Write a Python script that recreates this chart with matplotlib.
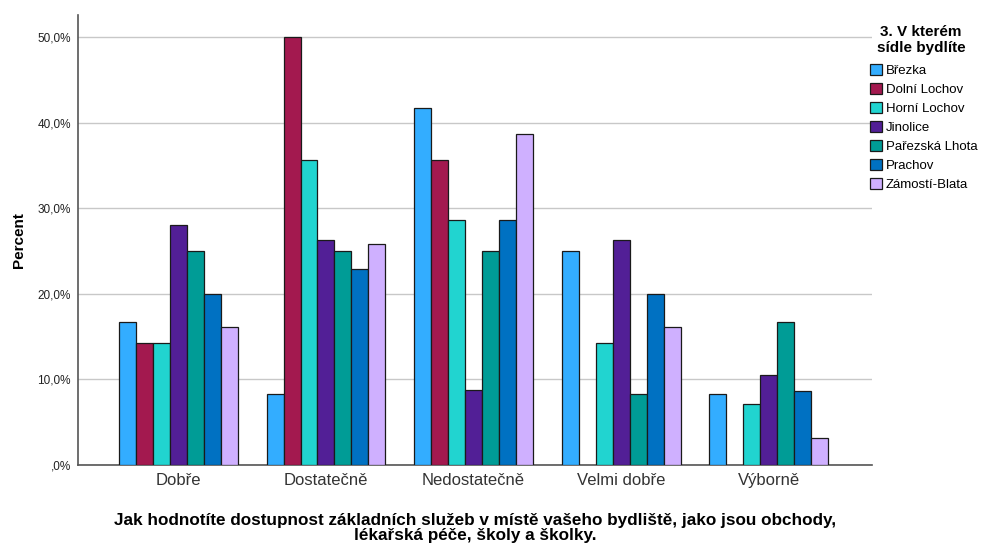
import numpy as np
import matplotlib.pyplot as plt

plt.rcParams['font.family'] = ['Liberation Sans', 'DejaVu Sans']

categories = ['Dobře', 'Dostatečně', 'Nedostatečně', 'Velmi dobře', 'Výborně']
settlements = ['Březka', 'Dolní Lochov', 'Horní Lochov', 'Jinolice',
               'Pařezská Lhota', 'Prachov', 'Zámostí-Blata']

brezka = [16.7, 8.3, 41.7, 25.0, 8.3]
dolni_lochov = [14.3, 50.0, 35.7, 0.0, 0.0]
horni_lochov = [14.3, 35.7, 28.6, 14.3, 7.1]
jinolice = [28.0, 26.3, 8.8, 26.3, 10.5]
parezska_lhota = [25.0, 25.0, 25.0, 8.3, 16.7]
prachov = [20.0, 22.9, 28.6, 20.0, 8.6]
zamosti_blata = [16.1, 25.8, 38.7, 16.1, 3.2]

colors = ['#33adff', '#a3194f', '#21d4d0', '#521f96', '#009c96', '#0071c2', '#cfb0ff']
series = [brezka, dolni_lochov, horni_lochov, jinolice, parezska_lhota, prachov, zamosti_blata]

fig = plt.figure(figsize=(9.83, 5.43), dpi=100)
ax = fig.add_axes([0.0793, 0.1436, 0.808, 0.8288])

x = np.arange(len(categories))
width = 0.115
for i, (name, vals, col) in enumerate(zip(settlements, series, colors)):
    offs = (i - 3) * width
    vals = np.array(vals)
    mask = vals > 0
    ax.bar(x[mask] + offs, vals[mask], width, color=col, edgecolor='#1a1a1a',
           linewidth=0.9, label=name, zorder=3)

ax.set_xlim(-0.68, 4.7)
ax.set_ylim(0, 52.6)
ax.set_yticks([0, 10, 20, 30, 40, 50])
ax.set_yticklabels([',0%', '10,0%', '20,0%', '30,0%', '40,0%', '50,0%'],
                   fontsize=8.5, color='#222222')
ax.set_xticks(x)
ax.set_xticklabels(categories, fontsize=12, color='#333333')
ax.tick_params(axis='both', length=0)
ax.tick_params(axis='y', pad=5)
ax.tick_params(axis='x', pad=6)
ax.grid(axis='y', color='#c8c8c8', linewidth=1, zorder=0)

for side in ['top', 'right']:
    ax.spines[side].set_visible(False)
for side in ['left', 'bottom']:
    ax.spines[side].set_color('#555555')
    ax.spines[side].set_linewidth(1.2)

ax.set_ylabel('Percent', fontsize=11, fontweight='bold', labelpad=8)
ax.set_xlabel('Jak hodnotíte dostupnost základních služeb v místě vašeho bydliště, jako jsou obchody,\n'
              'lékařská péče, školy a školky.', fontsize=12.3, fontweight='bold',
              linespacing=1.0, labelpad=18)

# legend title drawn separately so the two lines get proper spacing
fig.text(921 / 983, 1 - 40 / 543, '3. V kterém\nsídle bydlíte', ha='center', va='center',
         fontsize=11, fontweight='bold', linespacing=1.2)
leg = fig.legend(loc='upper left', bbox_to_anchor=(870 / 983, 1 - 64 / 543), frameon=False,
                 fontsize=9.5, handlelength=0.9, handleheight=0.9, handletextpad=0.3,
                 labelspacing=0.45, borderaxespad=0, borderpad=0)

plt.savefig('out.png', dpi=100)
